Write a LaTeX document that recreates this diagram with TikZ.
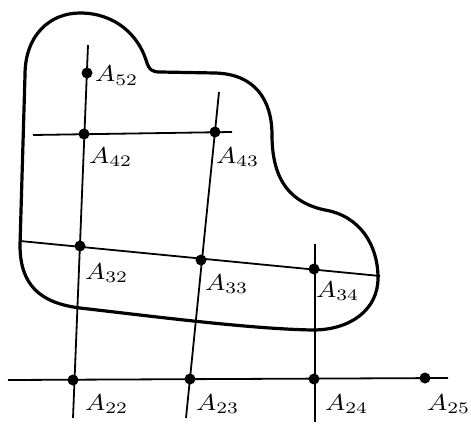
\documentclass[tikz,border=0pt]{standalone}
\usepackage{graphicx}
\begin{document}
\begin{tikzpicture}[x=1pt,y=-1pt,
  gridline/.style={line width=1.8pt},
  blob/.style={line width=3.2pt, line join=round},
  pt/.style={circle, fill, inner sep=0pt, minimum size=11pt},
  lab/.style={anchor=base west, inner sep=0pt}]
\newcommand{\albl}[1]{\scalebox{2.7}[2.3]{$A_{#1}$}}
\useasboundingbox (0,0) rectangle (471,425);
% outline
\draw[blob] (20,245) -- (25,75) .. controls (25,35) and (50,13) .. (80,13)
  .. controls (115,13) and (138,35) .. (146,60)
  .. controls (149,70) and (152,72) .. (160,72) -- (215,73)
  .. controls (255,74) and (272,100) .. (272,135)
  .. controls (272,182) and (292,203) .. (325,210)
  .. controls (360,216) and (378,245) .. (378,278)
  .. controls (378,310) and (350,330) .. (313,330)
  .. controls (250,329) and (150,316) .. (80,308)
  .. controls (40,303) and (20,285) .. (20,245) -- cycle;
% line end points
\coordinate (v1t) at (88,45);   \coordinate (v1b) at (73,418);
\coordinate (v2t) at (219,92);  \coordinate (v2b) at (186,418);
\coordinate (v3t) at (315,244); \coordinate (v3b) at (315,422);
\coordinate (h4l) at (33,135);  \coordinate (h4r) at (232,132);
\coordinate (h3l) at (20,241);  \coordinate (h3r) at (380,276);
\coordinate (h2l) at (8,380);   \coordinate (h2r) at (448,378);
\draw[gridline] (v1t) -- (v1b);
\draw[gridline] (v2t) -- (v2b);
\draw[gridline] (v3t) -- (v3b);
\draw[gridline] (h4l) -- (h4r);
\draw[gridline] (h3l) -- (h3r);
\draw[gridline] (h2l) -- (h2r);
% points
\node[pt] (p52) at (87,73) {};
\node[pt] (p42) at (84,134) {};
\node[pt] (p43) at (215,132) {};
\node[pt] (p32) at (80,246) {};
\node[pt] (p33) at (201,260) {};
\node[pt] (p34) at (314,269) {};
\node[pt] (p22) at (73,380) {};
\node[pt] (p23) at (190,379) {};
\node[pt] (p24) at (314,379) {};
\node[pt] (p25) at (425,378) {};
% labels
\node[lab] (l52) at (95,82)  {\albl{52}};
\node[lab] (l42) at (89,163) {\albl{42}};
\node[lab] (l43) at (216,163) {\albl{43}};
\node[lab] (l32) at (85,279) {\albl{32}};
\node[lab] (l33) at (205,290) {\albl{33}};
\node[lab] (l34) at (316,297) {\albl{34}};
\node[lab] (l22) at (85,410) {\albl{22}};
\node[lab] (l23) at (196,410) {\albl{23}};
\node[lab] (l24) at (325,410) {\albl{24}};
\node[lab] (l25) at (427,410) {\albl{25}};
\end{tikzpicture}
\end{document}
